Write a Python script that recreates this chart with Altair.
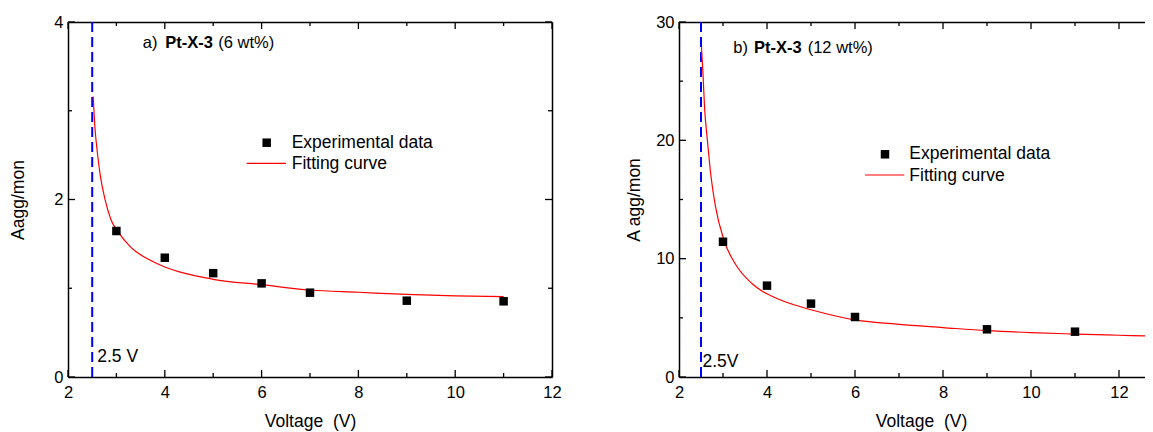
import altair as alt
import pandas as pd

FONT = "Liberation Sans"

# ---------------- data: panel a ----------------
a_volt = [3, 4, 5, 6, 7, 9, 11]
a_aggmon = [1.645, 1.344, 1.17, 1.055, 0.95, 0.86, 0.853]
a_fit_x = [2.52, 2.55, 2.60, 2.67, 2.77, 2.89, 3.03, 3.3, 3.72, 4.0, 4.4, 4.82,
           5.0, 6.0, 7.0, 8.0, 9.0, 10.0, 11.0]
a_fit_y = [3.16, 2.86, 2.56, 2.26, 1.99, 1.77, 1.64, 1.46, 1.31, 1.24, 1.17, 1.12,
           1.10, 1.04, 0.98, 0.955, 0.93, 0.915, 0.905]
a_x_major = [2, 4, 6, 8, 10, 12]
a_x_minor = [3, 5, 7, 9, 11]
a_y_major = [0, 2, 4]
a_y_minor = [1, 3]

# ---------------- data: panel b ----------------
b_volt = [3, 4, 5, 6, 9, 11]
b_aggmon = [11.43, 7.72, 6.2, 5.07, 4.03, 3.83]
b_fit_x = [2.51, 2.545, 2.58, 2.645, 2.72, 2.83, 3.02, 3.27, 3.65, 3.91, 4.10, 4.63,
           5.0, 6.0, 7.0, 8.0, 9.0, 10.0, 11.0, 12.0, 12.77]
b_fit_y = [27.9, 25.67, 22.84, 20.03, 17.2, 14.4, 11.58, 9.61, 7.92, 7.21, 6.85, 6.08,
           5.68, 4.82, 4.45, 4.18, 3.92, 3.75, 3.63, 3.53, 3.46]
b_x_major = [2, 4, 6, 8, 10, 12]
b_x_minor = [3, 5, 7, 9, 11]
b_y_major = [0, 10, 20, 30]
b_y_minor = [5, 15, 25]

threshold = [2.5]
legend_labels = ["Experimental data", "Fitting curve"]
x_title = "Voltage\u00a0 (V)"


def txt(label, x, y, size=17.5, weight="normal", align="left"):
    return alt.Chart(pd.DataFrame({"t": [label]})).mark_text(
        font=FONT, fontSize=size, fontWeight=weight, align=align,
        baseline="middle", color="black"
    ).encode(x=alt.value(x), y=alt.value(y), text="t:N")


def panel(W, H, xmax, ymax, px, py, fx, fy, xmaj, xmin, ymaj, ymin,
          ytitle, ytitle_x, title_parts, leg, thr_label, thr_dx, thr_y, right_frame,
          title_cx=None):
    xs = alt.Scale(domain=[2, xmax], nice=False, zero=False)
    ys = alt.Scale(domain=[0, ymax], nice=False, zero=False)
    pts = pd.DataFrame({"x": px, "y": py})
    fit = pd.DataFrame({"x": fx, "y": fy})

    fit_line = alt.Chart(fit).mark_line(color="#ff0000", strokeWidth=1.2, clip=True,
                                        interpolate="monotone").encode(
        x=alt.X("x:Q", scale=xs, axis=None),
        y=alt.Y("y:Q", scale=ys, axis=None),
    )
    xaxis_kw = dict(
        values=xmaj, ticks=False, tickSize=0, labelPadding=7, labelFlush=False,
        labelOverlap=False, title=x_title, titleY=44.7, titleBaseline="middle",
        domain=True)
    if title_cx is not None:
        xaxis_kw["titleX"] = title_cx
    points = alt.Chart(pts).mark_square(size=72, color="black", opacity=1).encode(
        x=alt.X("x:Q", scale=xs, axis=alt.Axis(**xaxis_kw)),
        y=alt.Y("y:Q", scale=ys, axis=alt.Axis(
            values=ymaj, ticks=False, tickSize=0, labelPadding=5, labelFlush=False,
            labelOverlap=False, title=ytitle, titleX=ytitle_x, titleY=H / 2,
            titleBaseline="middle", titleAngle=270, domain=True)),
    )
    frame_y_axis = (alt.Axis(orient="right", labels=False, ticks=False, tickSize=0,
                             title=None, domain=True)
                    if right_frame else None)
    frame = alt.Chart(pts).mark_point(opacity=0).encode(
        x=alt.X("x:Q", scale=xs, axis=alt.Axis(orient="top", labels=False, ticks=False,
                                               tickSize=0, title=None, domain=True)),
        y=alt.Y("y:Q", scale=ys, axis=frame_y_axis),
    )
    thr = alt.Chart(pd.DataFrame({"x": threshold})).mark_rule(
        color="#0000ff", strokeWidth=2, strokeDash=[10, 5]).encode(
        x=alt.X("x:Q", scale=xs, axis=None))
    thr_txt = alt.Chart(pd.DataFrame({"x": threshold, "t": [thr_label]})).mark_text(
        font=FONT, fontSize=17.5, align="left", baseline="middle", dx=thr_dx, color="black"
    ).encode(x=alt.X("x:Q", scale=xs, axis=None), y=alt.value(thr_y), text="t:N")

    layers = [thr, fit_line, points, frame, thr_txt]

    # inward ticks
    def xticks(vals, ln):
        d = pd.DataFrame({"v": vals})
        bottom = alt.Chart(d).mark_rule(color="black", strokeWidth=1.3).encode(
            x=alt.X("v:Q", scale=xs, axis=None), y=alt.value(H), y2=alt.value(H - ln))
        top = alt.Chart(d).mark_rule(color="black", strokeWidth=1.3).encode(
            x=alt.X("v:Q", scale=xs, axis=None), y=alt.value(0), y2=alt.value(ln))
        return [bottom, top]

    def yticks(vals, ln):
        d = pd.DataFrame({"v": vals})
        out = [alt.Chart(d).mark_rule(color="black", strokeWidth=1.3).encode(
            y=alt.Y("v:Q", scale=ys, axis=None), x=alt.value(0), x2=alt.value(ln))]
        if right_frame:
            out.append(alt.Chart(d).mark_rule(color="black", strokeWidth=1.3).encode(
                y=alt.Y("v:Q", scale=ys, axis=None), x=alt.value(W), x2=alt.value(W - ln)))
        return out

    layers += xticks(xmaj, 7) + xticks(xmin, 4) + yticks(ymaj, 7) + yticks(ymin, 4)

    # title pieces
    for label, x, y, w in title_parts:
        layers.append(txt(label, x, y, size=16.5, weight=w))

    # legend
    sq_x, sq_y, tx, ln_x1, ln_x2, ln_y = leg
    layers.append(alt.Chart(pd.DataFrame({"k": [legend_labels[0]]})).mark_square(
        size=72, color="black", opacity=1).encode(x=alt.value(sq_x), y=alt.value(sq_y)))
    layers.append(txt(legend_labels[0], tx, sq_y))
    layers.append(alt.Chart(pd.DataFrame({"k": [legend_labels[1]]})).mark_rule(
        color="#ff0000", strokeWidth=1.2).encode(
        x=alt.value(ln_x1), x2=alt.value(ln_x2), y=alt.value(ln_y)))
    layers.append(txt(legend_labels[1], tx, ln_y + 0.5))

    return alt.layer(*layers).resolve_axis(x="independent", y="independent").properties(
        width=W, height=H)


H = 355
W2 = 466
left = panel(
    W=484, H=H, xmax=12, ymax=4, px=a_volt, py=a_aggmon, fx=a_fit_x, fy=a_fit_y,
    xmaj=a_x_major, xmin=a_x_minor, ymaj=a_y_major, ymin=a_y_minor,
    ytitle="Aagg/mon", ytitle_x=-50,
    title_parts=[("a)", 74.7, 20.7, "normal"), ("Pt-X-3", 97.3, 20.7, "bold"),
                 ("(6 wt%)", 150.3, 20.7, "normal")],
    leg=(198.7, 120.7, 223.7, 178.7, 218, 141.3),
    thr_label="2.5 V", thr_dx=5, thr_y=334.7, right_frame=True,
)
right = panel(
    W=W2, H=H, xmax=2 + W2 / 44, ymax=30, px=b_volt, py=b_aggmon, fx=b_fit_x, fy=b_fit_y,
    xmaj=b_x_major, xmin=b_x_minor, ymaj=b_y_major, ymin=b_y_minor,
    ytitle="A agg/mon", ytitle_x=-45,
    title_parts=[("b)", 54.3, 26.3, "normal"), ("Pt-X-3", 75, 26.3, "bold"),
                 ("(12 wt%)", 128.7, 26.3, "normal")],
    leg=(206, 132.3, 230.3, 186, 225.3, 153),
    thr_label="2.5V", thr_dx=1.4, thr_y=340.3, right_frame=False,
    title_cx=242,
)

chart = alt.hconcat(left, right, spacing=127, bounds="flush").properties(
    padding={"left": 1, "top": 6, "right": 0, "bottom": 0},
).configure_view(stroke=None).configure_axis(
    grid=False, labelFont=FONT, titleFont=FONT, labelFontSize=16.5, titleFontSize=17.5,
    labelColor="black", titleColor="black", titleFontWeight="normal",
    domainColor="black", domainWidth=1.5, tickColor="black",
)

chart.save("out.html", embed_options={"renderer": "svg", "actions": False})
